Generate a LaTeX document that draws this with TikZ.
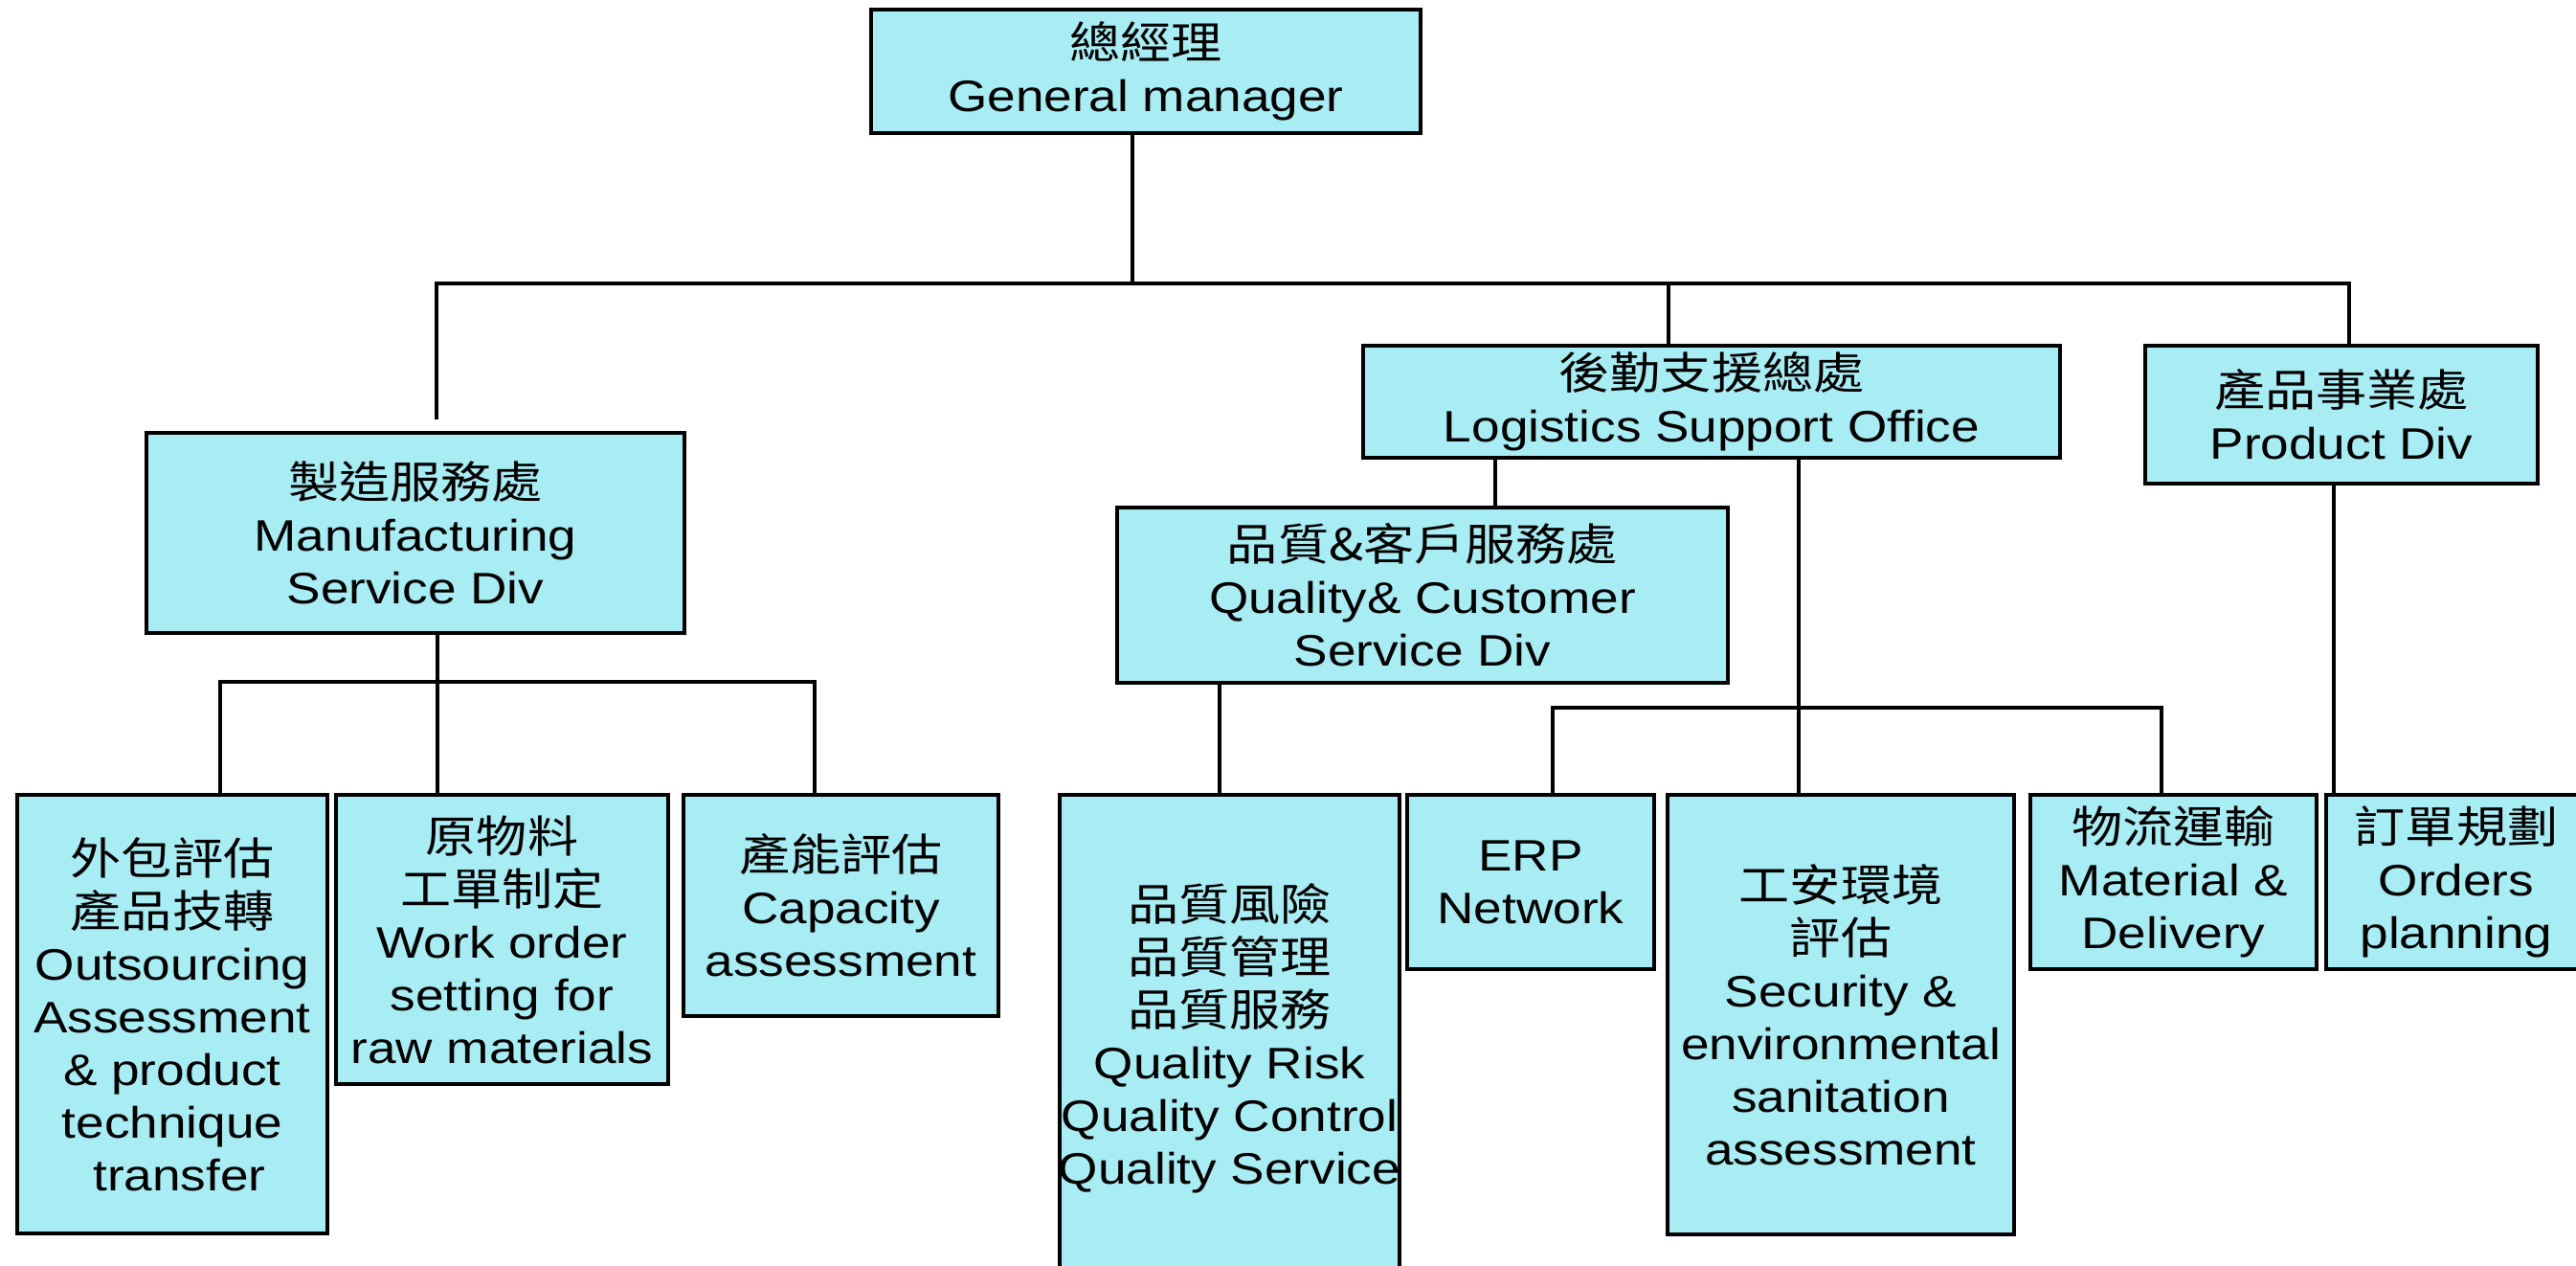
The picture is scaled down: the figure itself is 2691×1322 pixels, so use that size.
\documentclass[tikz,border=0pt]{standalone}
\usepackage{fontspec}
\setmainfont{Liberation Sans}[FakeStretch=1.155]
\newfontfamily\cjk{Noto Sans CJK TC}[FakeStretch=1.155]
\definecolor{boxfill}{RGB}{168,236,244}
\begin{document}
\begin{tikzpicture}[x=1pt,y=-1pt,
  box/.style={draw=black, line width=4pt, fill=boxfill, inner sep=0pt, align=center,
    font=\fontsize{46}{55}\selectfont},
  conn/.style={draw=black, line width=4pt}]
\useasboundingbox (0,0) rectangle (2691,1322);
\fill[white] (0,0) rectangle (2691,1322);

% top level
\node[box, minimum width=574pt, minimum height=129pt] (gm) at (1197,74.5) {{\cjk 總經理}\\General manager};
% second level
\node[box, minimum width=562pt, minimum height=209pt] (mfg) at (434,556.5) {{\cjk 製造服務處}\\Manufacturing\\Service Div};
\node[box, minimum width=728pt, minimum height=117pt] (log) at (1788,419.5) {{\cjk 後勤支援總處}\\Logistics Support Office};
\node[box, minimum width=410pt, minimum height=144pt] (prod) at (2446,433) {{\cjk 產品事業處}\\Product Div};
\node[box, minimum width=638pt, minimum height=183pt] (qcs) at (1486,621.5) {{\cjk 品質\&客戶服務處}\\Quality\& Customer\\Service Div};
% bottom level
\node[box, minimum width=324pt, minimum height=458pt] (outs) at (180,1059) {{\cjk 外包評估}\\{\cjk 產品技轉}\\Outsourcing\\Assessment\\\& product\\technique\\\hspace*{15pt}transfer};
\node[box, minimum width=347pt, minimum height=302pt] (work) at (524.5,981) {{\cjk 原物料}\\{\cjk 工單制定}\\Work order\\setting for\\raw materials};
\node[box, minimum width=329pt, minimum height=231pt] (cap) at (878.5,945.5) {{\cjk 產能評估}\\Capacity\\assessment};
\node[box, minimum width=355pt, minimum height=508pt] (qrisk) at (1284.5,1084) {{\cjk 品質風險}\\{\cjk 品質管理}\\{\cjk 品質服務}\\Quality Risk\hspace*{28pt}\\\makebox[0pt]{Quality Control}\\\makebox[0pt]{Quality Service}};
\node[box, minimum width=258pt, minimum height=182pt] (erp) at (1599,921) {ERP\\Network};
\node[box, minimum width=362pt, minimum height=459pt] (sec) at (1923,1059.5) {{\cjk 工安環境}\\{\cjk 評估}\\Security \&\\environmental\\sanitation\\assessment};
\node[box, minimum width=299pt, minimum height=182pt] (mat) at (2270.5,921) {{\cjk 物流運輸}\\Material \&\\Delivery};
\node[box, minimum width=272pt, minimum height=182pt] (ord) at (2566,921) {{\cjk 訂單規劃}\\Orders\\planning};

% junction coordinates
\coordinate (bGM) at (1183,296);
\coordinate (bL) at (456,296);
\coordinate (bR) at (2454,296);
\coordinate (bLog) at (1743,296);
\coordinate (mfgstub) at (456,438);
\coordinate (lq) at (1562,500);
\coordinate (ls) at (1879,739);
\coordinate (e) at (1622,739);
\coordinate (m) at (2258,739);
\coordinate (po) at (2438,700);
\coordinate (mw) at (457,712);
\coordinate (ma) at (230,712);
\coordinate (mc) at (851,712);
\coordinate (qr) at (1274,760);

% connectors
\draw[conn] (gm.south -| bGM) -- (bGM);
\draw[conn] (mfgstub) -- (bL) -- (bR) -- (bR |- prod.north);
\draw[conn] (bLog) -- (bLog |- log.north);
\draw[conn] (log.south -| lq) -- (qcs.north -| lq);
\draw[conn] (log.south -| ls) -- (sec.north -| ls);
\draw[conn] (erp.north -| e) -- (e) -- (m) -- (mat.north -| m);
\draw[conn] (prod.south -| po) -- (ord.north -| po);
\draw[conn] (mfg.south -| mw) -- (work.north -| mw);
\draw[conn] (outs.north -| ma) -- (ma) -- (mc) -- (cap.north -| mc);
\draw[conn] (qcs.south -| qr) -- (qrisk.north -| qr);
\end{tikzpicture}
\end{document}
